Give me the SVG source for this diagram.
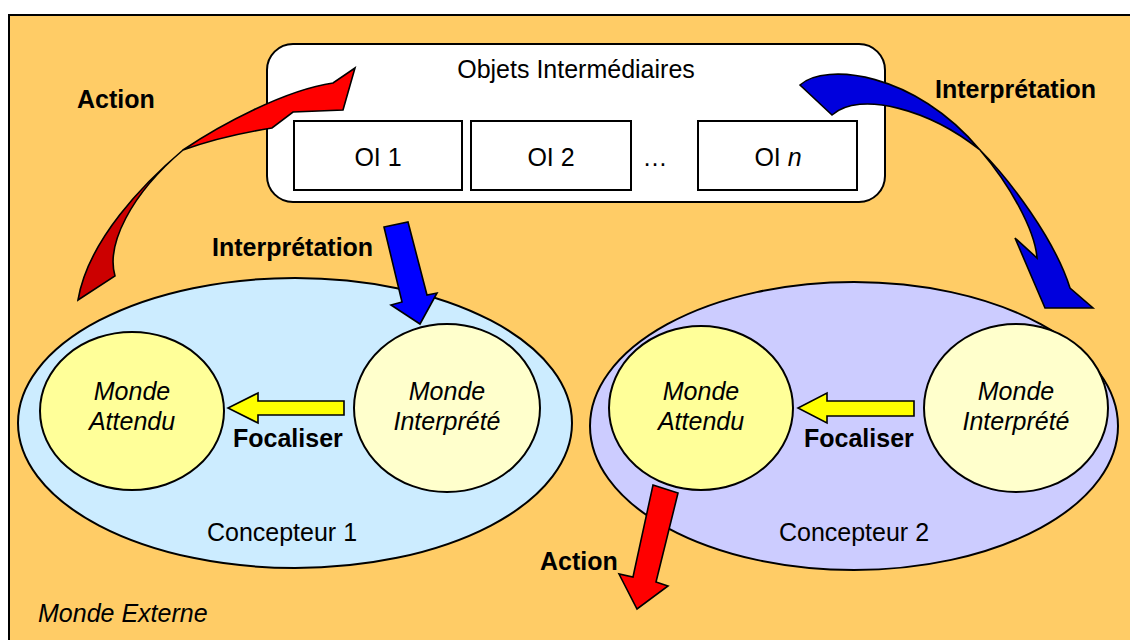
<svg xmlns="http://www.w3.org/2000/svg" width="1130" height="640" viewBox="0 0 1130 640">
<style>
text{font-family:"Liberation Sans",Arial,sans-serif;font-size:25px;fill:#000}
.b{font-weight:bold}
.i{font-style:italic}
.m{text-anchor:middle}
.ln{stroke:#000;stroke-width:2}
.thin{stroke:#000;stroke-width:1.6;stroke-linejoin:miter}
</style>
<rect x="0" y="0" width="1130" height="640" fill="#fff"/>
<g id="monde-externe">
<rect x="9" y="15" width="1135" height="640" fill="#FFCC66" class="ln"/>
<text x="38" y="622" class="i">Monde Externe</text>
</g>
<g id="concepteur1">
<ellipse cx="295" cy="423" rx="277" ry="145" fill="#CCECFF" class="ln"/>
<text x="282" y="541" class="m">Concepteur 1</text>
</g>
<g id="concepteur2">
<ellipse cx="854" cy="426" rx="264" ry="144" fill="#CCCCFF" class="ln"/>
<text x="854" y="541" class="m">Concepteur 2</text>
</g>
<g id="attendu1">
<ellipse cx="132" cy="411" rx="92" ry="79" fill="#FFFF99" class="ln"/>
<text x="132" y="400" class="i m">Monde</text>
<text x="132" y="430" class="i m">Attendu</text>
</g>
<g id="interprete1">
<ellipse cx="447" cy="408" rx="93" ry="84" fill="#FFFFCC" class="ln"/>
<text x="447" y="400" class="i m">Monde</text>
<text x="447" y="430" class="i m">Interprété</text>
</g>
<g id="attendu2">
<ellipse cx="701" cy="408" rx="92" ry="82" fill="#FFFF99" class="ln"/>
<text x="701" y="400" class="i m">Monde</text>
<text x="701" y="430" class="i m">Attendu</text>
</g>
<g id="interprete2">
<ellipse cx="1016" cy="408" rx="92" ry="84" fill="#FFFFCC" class="ln"/>
<text x="1016" y="400" class="i m">Monde</text>
<text x="1016" y="430" class="i m">Interprété</text>
</g>
<g id="objets">
<rect x="267" y="44" width="618" height="158" rx="26" fill="#fff" class="ln"/>
<text x="576" y="78" class="m">Objets Intermédiaires</text>
</g>
<g id="oi1">
<rect x="294" y="121" width="168" height="69" fill="#fff" class="ln"/>
<text x="378" y="166" class="m">OI 1</text>
</g>
<g id="oi2">
<rect x="471" y="121" width="160" height="69" fill="#fff" class="ln"/>
<text x="551" y="166" class="m">OI 2</text>
</g>
<g id="dots">
<text x="655" y="166" class="m">…</text>
</g>
<g id="oin">
<rect x="698" y="121" width="159" height="69" fill="#fff" class="ln"/>
<text x="778" y="166" class="m">OI <tspan class="i">n</tspan></text>
</g>
<g id="connectors">
<path d="M183,150 C145,182 88,240 78,300 L115,276 C106,245 130,195 183,150 Z" fill="#CC0000" class="thin"/>
<path d="M183,150 C220,125 285,90 333,83 L355,68 L343,110 L293,112 L272,128 C240,133 205,142 183,150 Z" fill="#FF0000" class="thin"/>
<path d="M800,85 C825,62 915,72 980,150 C930,110 860,90 832,115 Z" fill="#0000DD" class="thin"/>
<path d="M980,150 C1010,180 1055,240 1070,288 L1093,308 L1045,308 L1015,238 L1037,258 C1035,230 1010,185 980,150 Z" fill="#0000DD" class="thin"/>
<path d="M384,227 L408,222 L427,295 L437,293 L420,324 L391,305 L402,302 Z" fill="#0000FF" class="thin"/>
<path d="M344,401 L258,401 L258,393 L228,408 L258,423 L258,415 L344,415 Z" fill="#FFFF00" class="thin"/>
<path d="M914,401 L827,401 L827,393 L798,408 L827,423 L827,416 L914,416 Z" fill="#FFFF00" class="thin"/>
<path d="M653,485 L678,493 L656,582 L668,586 L637,609 L619,574 L633,577 Z" fill="#FF0000" class="thin"/>
</g>
<g id="labels">
<text x="77" y="108" class="b">Action</text>
<text x="935" y="98" class="b">Interprétation</text>
<text x="212" y="256" class="b">Interprétation</text>
<text x="233" y="447" class="b">Focaliser</text>
<text x="804" y="447" class="b">Focaliser</text>
<text x="540" y="570" class="b">Action</text>
</g>
</svg>
